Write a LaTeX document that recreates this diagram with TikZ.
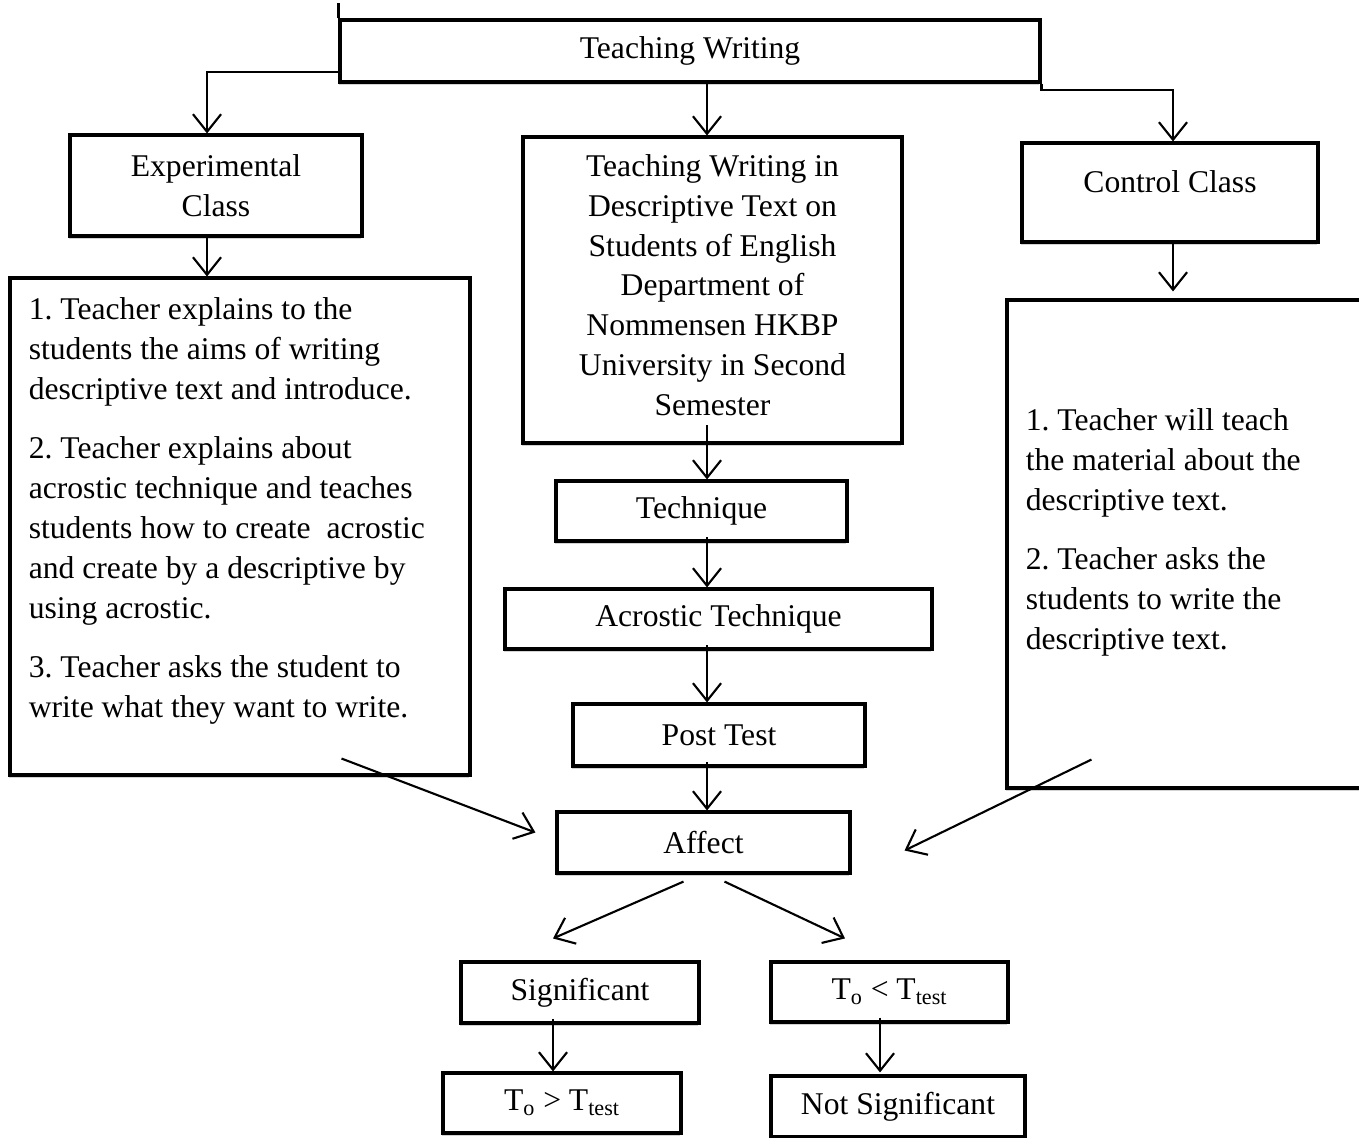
\documentclass[tikz,border=0pt]{standalone}
\usepackage{fontspec}
\setmainfont{Liberation Serif}
\usetikzlibrary{arrows.meta,calc,shadows}
\tikzset{TWbox/.style={draw,line width=1.8pt,fill=white,align=center,inner sep=0pt,
           drop shadow={shadow xshift=-0.6pt,shadow yshift=-1.8pt,opacity=0.35}},
         TWtxt/.style={align=left,inner sep=0pt,anchor=north west},
         TWarr/.style={line width=1.2pt,-{Straight Barb[length=10pt,width=16pt]}}}

\begin{document}
\begin{tikzpicture}[x=0.02cm,y=-0.02cm,font=\fontsize{18}{22.7}\selectfont\frenchspacing]
  \useasboundingbox (0,0) rectangle (1359,1137);
  \coordinate (colL) at (207,0); \coordinate (colM) at (707,0); \coordinate (colR) at (1173,0);
  \node[TWbox,minimum width=14cm,minimum height=1.24cm] (tw) at (690,51) {Teaching Writing};
  \node[TWbox,minimum width=5.84cm,minimum height=2.02cm] (exp) at (216,185.5) {Experimental\\Class};
  \node[TWbox,minimum width=7.58cm,minimum height=6.12cm,text depth=0.2cm] (topic) at (712.5,290)
    {Teaching Writing in\\Descriptive Text on\\Students of English\\Department of\\Nommensen HKBP\\University in Second\\Semester};
  \node[TWbox,minimum width=5.92cm,minimum height=1.98cm,text depth=0.44cm] (ctrl) at (1170,192.5) {Control Class};
  \node[TWbox,minimum width=9.2cm,minimum height=9.94cm] (explist) at (240,526.5) {};
  \node[TWbox,minimum width=7.36cm,minimum height=9.76cm] (ctrllist) at (1191,544) {};
  \node[TWtxt] (exptxt) at ($(explist.north west)+(20,21)$)
    {1. Teacher explains to the\\students the aims of writing\\descriptive text and introduce.\\[11pt]
     2. Teacher explains about\\acrostic technique and teaches\\students how to create~ acrostic\\and create by a descriptive by\\using acrostic.\\[11pt]
     3. Teacher asks the student to\\write what they want to write.};
  \node[TWtxt] (ctrltxt) at ($(ctrllist.north west)+(20,110)$)
    {1. Teacher will teach\\the material about the\\descriptive text.\\[11pt]
     2. Teacher asks the\\students to write the\\descriptive text.};
  \node[TWbox,minimum width=5.82cm,minimum height=1.2cm] (tech) at (701.5,511) {Technique};
  \node[TWbox,minimum width=8.54cm,minimum height=1.2cm] (acro) at (718.5,619) {Acrostic Technique};
  \node[TWbox,minimum width=5.84cm,minimum height=1.24cm] (post) at (719,735) {Post Test};
  \node[TWbox,minimum width=5.86cm,minimum height=1.22cm] (affect) at (703.5,842.5) {Affect};
  \node[TWbox,minimum width=4.76cm,minimum height=1.22cm] (sig) at (580,992.5) {Significant};
  \node[TWbox,minimum width=4.74cm,minimum height=1.2cm] (lt) at (889.5,992) {T\textsubscript{o} < T\textsubscript{test}};
  \node[TWbox,minimum width=4.76cm,minimum height=1.2cm] (gt) at (562,1103) {T\textsubscript{o} > T\textsubscript{test}};
  \node[TWbox,minimum width=5.08cm,minimum height=1.22cm] (notsig) at (898,1106.5) {Not Significant};
  \draw[line width=1.5pt] (tw.north west) -- ++(0,-15);
  \draw[TWarr] ($(tw.west)+(0,21)$) -| (exp.north -| colL);
  \draw[TWarr] (tw.south east) -- ++(0,6) -| (ctrl.north -| colR);
  \draw[TWarr] (tw.south -| colM) -- (topic.north -| colM);
  \draw[TWarr] (exp.south -| colL) -- (explist.north -| colL);
  \draw[TWarr,shorten >=4pt] (ctrl.south -| colR) -- (ctrllist.north -| colR);
  \foreach \a/\b/\s in {topic/tech/11pt,tech/acro/3pt,acro/post/3pt,post/affect/3pt}
    \draw[TWarr] ([yshift=\s]\a.south -| colM) -- (\b.north -| colM);
  \draw[TWarr] ($(explist.south east)+(-130,-18)$) -- ($(affect.west)+(-20,-10)$);
  \draw[TWarr] ($(ctrllist.south west)+(86,-30)$) -- ($(affect.east)+(53,8)$);
  \draw[TWarr] ($(affect.south)+(-20,7)$) -- ($(sig.north)+(-27,-22)$);
  \draw[TWarr] ($(affect.south)+(21,7)$) -- ($(lt.north)+(-44.5,-22)$);
  \draw[TWarr] ($(sig.south)+(-27,-6)$) -- ($(gt.north)+(-9,0)$);
  \draw[TWarr] ($(lt.south)+(-9.5,-6)$) -- ($(notsig.north)+(-18,-2)$);
\end{tikzpicture}
\end{document}
